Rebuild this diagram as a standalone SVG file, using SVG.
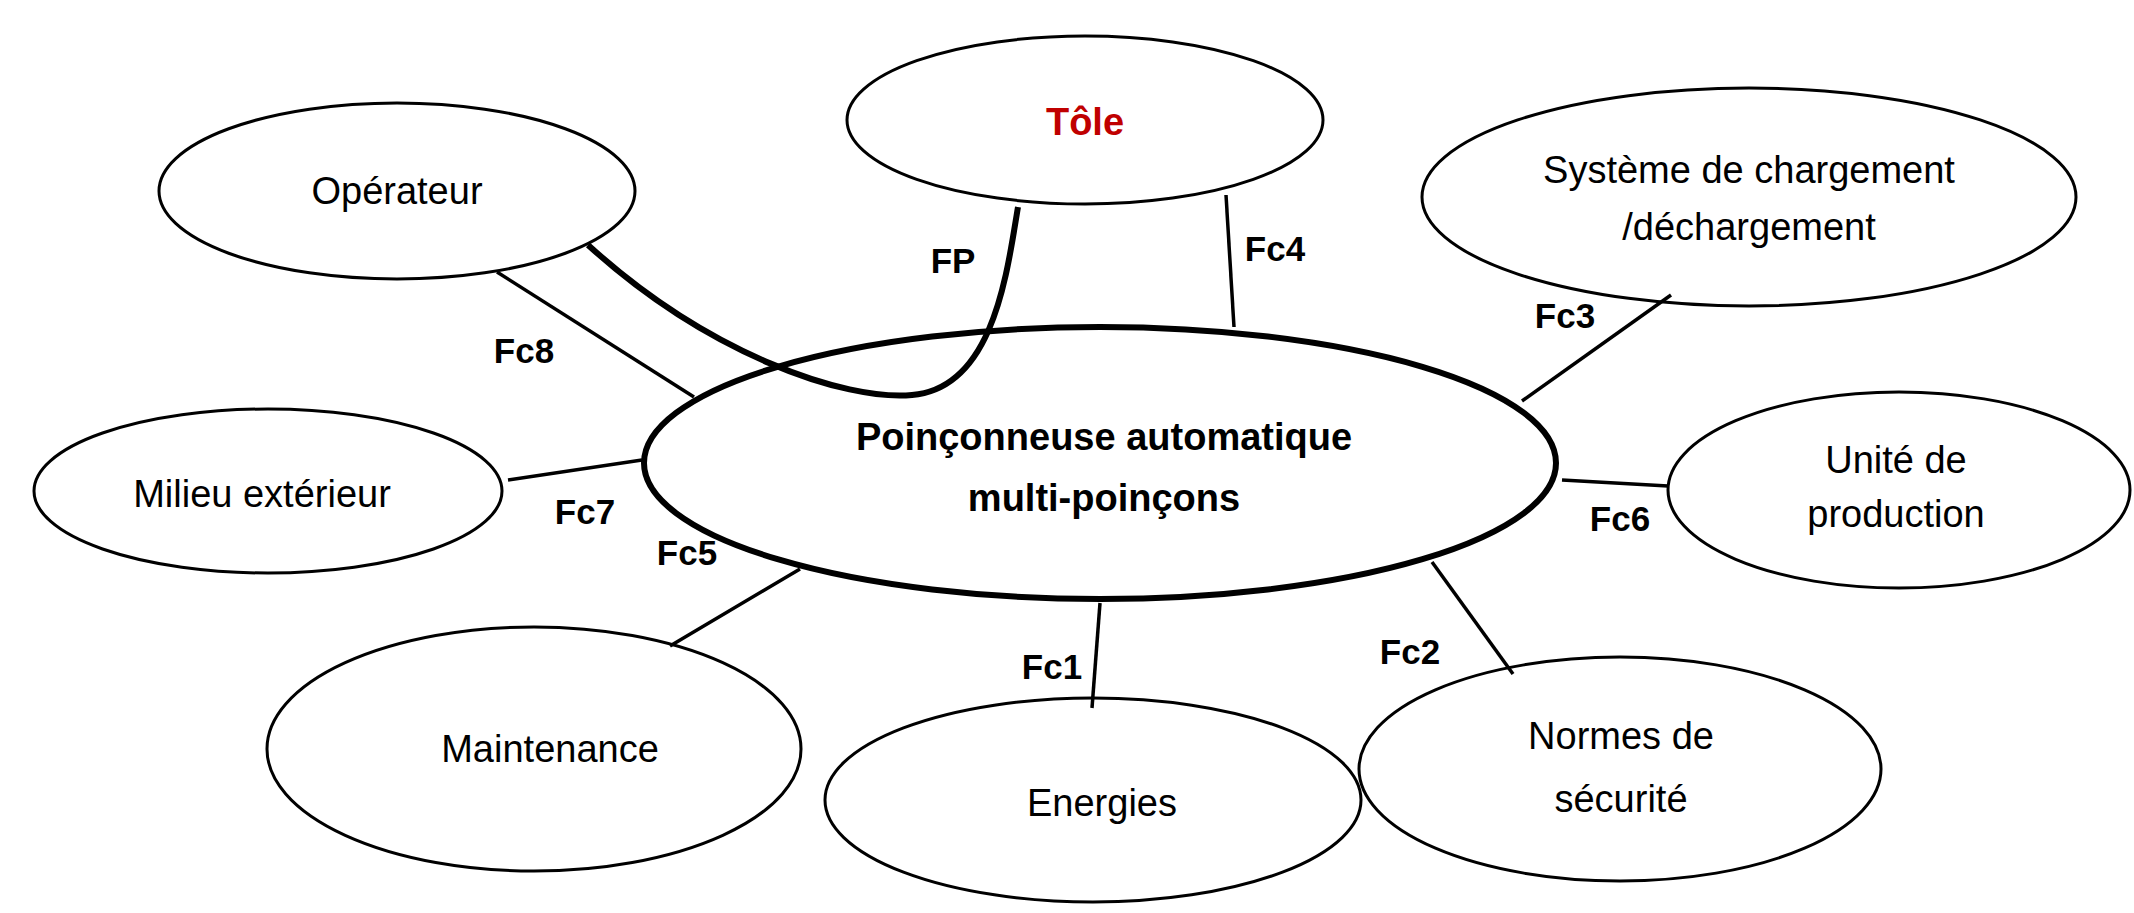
<svg xmlns="http://www.w3.org/2000/svg" width="2134" height="913" viewBox="0 0 2134 913">
<style>
.n{fill:#fff;stroke:#000;stroke-width:3}
.t{font-family:"Liberation Sans",Arial,sans-serif;font-size:38px;text-anchor:middle;fill:#000}
.b{font-weight:bold}
.c line{stroke:#000;stroke-width:3.5}
.l{font-family:"Liberation Sans",Arial,sans-serif;font-size:35px;font-weight:bold;text-anchor:middle}
</style>
<rect width="2134" height="913" fill="#fff"/>
<g id="tole"><ellipse class="n" cx="1085" cy="120" rx="238" ry="84"/><text class="t b" x="1085" y="135" font-size="44" fill="#C00000" style="fill:#C00000">Tôle</text></g>
<g id="operateur"><ellipse class="n" cx="397" cy="191" rx="238" ry="88"/><text class="t" x="397" y="204">Opérateur</text></g>
<g id="systeme"><ellipse class="n" cx="1749" cy="197" rx="327" ry="109"/><text class="t" x="1749" y="183">Système de chargement</text><text class="t" x="1749" y="240">/déchargement</text></g>
<g id="milieu"><ellipse class="n" cx="268" cy="491" rx="234" ry="82"/><text class="t" x="262" y="507">Milieu extérieur</text></g>
<g id="unite"><ellipse class="n" cx="1899" cy="490" rx="231" ry="98"/><text class="t" x="1896" y="473">Unité de</text><text class="t" x="1896" y="527">production</text></g>
<g id="maintenance"><ellipse class="n" cx="534" cy="749" rx="267" ry="122"/><text class="t" x="550" y="762">Maintenance</text></g>
<g id="energies"><ellipse class="n" cx="1093" cy="800" rx="268" ry="102"/><text class="t" x="1102" y="816">Energies</text></g>
<g id="normes"><ellipse class="n" cx="1620" cy="769" rx="261" ry="112"/><text class="t" x="1621" y="749">Normes de</text><text class="t" x="1621" y="812">sécurité</text></g>
<g id="connectors" class="c">
<line x1="1226" y1="195" x2="1234" y2="327"/>
<line x1="497" y1="272" x2="694" y2="397"/>
<line x1="1671" y1="295" x2="1522" y2="401"/>
<line x1="508" y1="480" x2="642" y2="460"/>
<line x1="1562" y1="480" x2="1668" y2="486"/>
<line x1="800" y1="569" x2="670" y2="646"/>
<line x1="1100" y1="603" x2="1092" y2="708"/>
<line x1="1432" y1="562" x2="1513" y2="674"/>
</g>
<g id="central"><ellipse cx="1100" cy="463" rx="456" ry="136" fill="#fff" stroke="#000" stroke-width="6"/><text class="t b" x="1104" y="450">Poinçonneuse automatique</text><text class="t b" x="1104" y="511">multi-poinçons</text></g>
<g id="fp"><path d="M588,245 C708,354 844,401 912,395 C994,388 1007,272 1018,207" fill="none" stroke="#000" stroke-width="6"/></g>
<g id="labels">
<text class="l" x="953" y="273">FP</text>
<text class="l" x="1275" y="261">Fc4</text>
<text class="l" x="524" y="363">Fc8</text>
<text class="l" x="1565" y="328">Fc3</text>
<text class="l" x="585" y="524">Fc7</text>
<text class="l" x="1620" y="531">Fc6</text>
<text class="l" x="687" y="565">Fc5</text>
<text class="l" x="1052" y="679">Fc1</text>
<text class="l" x="1410" y="664">Fc2</text>
</g>
</svg>
